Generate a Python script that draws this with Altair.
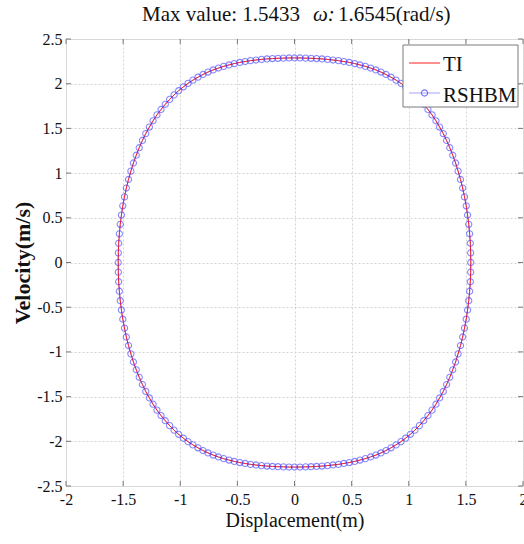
import altair as alt
import pandas as pd

# Phase portrait (displacement in m, velocity in m/s)
displacement = [
    1.543, 1.542, 1.539, 1.533, 1.525, 1.515, 1.503, 1.488, 1.472, 1.453, 1.432, 1.410, 1.385, 1.359, 1.331, 1.302,
    1.270, 1.238, 1.204, 1.168, 1.131, 1.093, 1.054, 1.014, 0.973, 0.932, 0.889, 0.845, 0.801, 0.757, 0.712, 0.666,
    0.620, 0.573, 0.527, 0.479, 0.432, 0.385, 0.337, 0.289, 0.241, 0.193, 0.145, 0.097, 0.048, 0.000,
    -0.048, -0.097, -0.145, -0.193, -0.241, -0.289, -0.337, -0.385, -0.432, -0.479, -0.527, -0.573, -0.620, -0.666,
    -0.712, -0.757, -0.801, -0.845, -0.889, -0.932, -0.973, -1.014, -1.054, -1.093, -1.131, -1.168, -1.204, -1.238,
    -1.270, -1.302, -1.331, -1.359, -1.385, -1.410, -1.432, -1.453, -1.472, -1.488, -1.503, -1.515, -1.525, -1.533,
    -1.539, -1.542, -1.543,
    -1.542, -1.539, -1.533, -1.525, -1.515, -1.503, -1.488, -1.472, -1.453, -1.432, -1.410, -1.385, -1.359, -1.331,
    -1.302, -1.270, -1.238, -1.204, -1.168, -1.131, -1.093, -1.054, -1.014, -0.973, -0.932, -0.889, -0.845, -0.801,
    -0.757, -0.712, -0.666, -0.620, -0.573, -0.527, -0.479, -0.432, -0.385, -0.337, -0.289, -0.241, -0.193, -0.145,
    -0.097, -0.048, 0.000,
    0.048, 0.097, 0.145, 0.193, 0.241, 0.289, 0.337, 0.385, 0.432, 0.479, 0.527, 0.573, 0.620, 0.666, 0.712, 0.757,
    0.801, 0.845, 0.889, 0.932, 0.973, 1.014, 1.054, 1.093, 1.131, 1.168, 1.204, 1.238, 1.270, 1.302, 1.331, 1.359,
    1.385, 1.410, 1.432, 1.453, 1.472, 1.488, 1.503, 1.515, 1.525, 1.533, 1.539, 1.542,
]
velocity = [
    0.000, -0.108, -0.215, -0.321, -0.427, -0.531, -0.634, -0.734, -0.833, -0.929, -1.022, -1.113, -1.200, -1.284,
    -1.365, -1.442, -1.515, -1.585, -1.651, -1.712, -1.770, -1.825, -1.875, -1.922, -1.965, -2.004, -2.040, -2.073,
    -2.103, -2.130, -2.154, -2.175, -2.194, -2.210, -2.225, -2.238, -2.248, -2.258, -2.265, -2.272, -2.277, -2.281,
    -2.284, -2.286, -2.288, -2.288,
    -2.288, -2.286, -2.284, -2.281, -2.277, -2.272, -2.265, -2.258, -2.248, -2.238, -2.225, -2.210, -2.194, -2.175,
    -2.154, -2.130, -2.103, -2.073, -2.040, -2.004, -1.965, -1.922, -1.875, -1.825, -1.770, -1.712, -1.651, -1.585,
    -1.515, -1.442, -1.365, -1.284, -1.200, -1.113, -1.022, -0.929, -0.833, -0.734, -0.634, -0.531, -0.427, -0.321,
    -0.215, -0.108, 0.000,
    0.108, 0.215, 0.321, 0.427, 0.531, 0.634, 0.734, 0.833, 0.929, 1.022, 1.113, 1.200, 1.284, 1.365, 1.442, 1.515,
    1.585, 1.651, 1.712, 1.770, 1.825, 1.875, 1.922, 1.965, 2.004, 2.040, 2.073, 2.103, 2.130, 2.154, 2.175, 2.194,
    2.210, 2.225, 2.238, 2.248, 2.258, 2.265, 2.272, 2.277, 2.281, 2.284, 2.286, 2.288, 2.288,
    2.288, 2.286, 2.284, 2.281, 2.277, 2.272, 2.265, 2.258, 2.248, 2.238, 2.225, 2.210, 2.194, 2.175, 2.154, 2.130,
    2.103, 2.073, 2.040, 2.004, 1.965, 1.922, 1.875, 1.825, 1.770, 1.712, 1.651, 1.585, 1.515, 1.442, 1.365, 1.284,
    1.200, 1.113, 1.022, 0.929, 0.833, 0.734, 0.634, 0.531, 0.427, 0.321, 0.215, 0.108,
]
x_ticks = [-2, -1.5, -1, -0.5, 0, 0.5, 1, 1.5, 2]
y_ticks = [-2.5, -2, -1.5, -1, -0.5, 0, 0.5, 1, 1.5, 2, 2.5]
series_names = ["TI", "RSHBM"]
title_parts = ["Max value: 1.5433", "\u03c9:", "1.6545(rad/s)"]
x_title = "Displacement(m)"
y_title = "Velocity(m/s)"

W, H = 457, 447
FONT = "Liberation Serif"
GRAY = "#7a7a7a"
BLUE = "#3a3aff"
RED = "#ff2020"

df = pd.DataFrame({"Displacement": displacement, "Velocity": velocity, "step": list(range(len(displacement)))})
line_df = pd.concat([df, df.iloc[[0]].assign(step=len(df))], ignore_index=True)

xs = alt.Scale(domain=[-2, 2], nice=False, zero=False)
ys = alt.Scale(domain=[-2.5, 2.5], nice=False, zero=False)

x_axis = alt.Axis(values=x_ticks, title=x_title, labelExpr="datum.value + ''", ticks=False, domain=False,
                  grid=True, gridDash=[2, 2], gridColor="#d4d4d4", labelFontSize=16, titleFontSize=20,
                  labelPadding=5, titlePadding=3, labelFlush=False, labelOverlap=False,
                  labelFont=FONT, titleFont=FONT, titleFontWeight="normal", labelColor="#111", titleColor="#111")
y_axis = alt.Axis(values=y_ticks, title=y_title, labelExpr="datum.value + ''", ticks=False, domain=False,
                  grid=True, gridDash=[2, 2], gridColor="#d4d4d4", labelFontSize=16, titleFontSize=22,
                  labelPadding=4, titlePadding=2, labelFlush=False, labelOverlap=False,
                  labelFont=FONT, titleFont=FONT, titleFontWeight="bold", labelColor="#111", titleColor="#111")

blue_line = alt.Chart(line_df).mark_line(color=BLUE, strokeWidth=0.8, opacity=0.6).encode(
    x=alt.X("Displacement:Q", scale=xs, axis=x_axis),
    y=alt.Y("Velocity:Q", scale=ys, axis=y_axis),
    order="step:Q",
)
red_line = alt.Chart(line_df).mark_line(color=RED, strokeWidth=1).encode(
    x=alt.X("Displacement:Q", scale=xs),
    y=alt.Y("Velocity:Q", scale=ys),
    order="step:Q",
)
circles = alt.Chart(df).mark_point(shape="circle", filled=False, color=BLUE, size=38,
                                   strokeWidth=1.1, opacity=0.6).encode(
    x=alt.X("Displacement:Q", scale=xs),
    y=alt.Y("Velocity:Q", scale=ys),
)

xt = pd.DataFrame({"t": x_ticks})
yt = pd.DataFrame({"t": y_ticks})
tick_style = dict(color=GRAY, strokeWidth=1)
ticks_bottom = alt.Chart(xt).mark_rule(**tick_style).encode(
    x=alt.X("t:Q", scale=xs), y=alt.value(H), y2=alt.value(H - 5))
ticks_top = alt.Chart(xt).mark_rule(**tick_style).encode(
    x=alt.X("t:Q", scale=xs), y=alt.value(0), y2=alt.value(5))
ticks_left = alt.Chart(yt).mark_rule(**tick_style).encode(
    y=alt.Y("t:Q", scale=ys), x=alt.value(0), x2=alt.value(5))
ticks_right = alt.Chart(yt).mark_rule(**tick_style).encode(
    y=alt.Y("t:Q", scale=ys), x=alt.value(W), x2=alt.value(W - 5))

one = pd.DataFrame({"k": [0]})
legend_box = alt.Chart(one).mark_rect(fill="white", stroke=GRAY, strokeWidth=1).encode(
    x=alt.value(337), x2=alt.value(452), y=alt.value(6), y2=alt.value(68))
leg_red = alt.Chart(one).mark_rule(color=RED, strokeWidth=1).encode(
    x=alt.value(343), x2=alt.value(374), y=alt.value(24))
leg_blue = alt.Chart(one).mark_rule(color=BLUE, strokeWidth=0.8, opacity=0.6).encode(
    x=alt.value(343), x2=alt.value(374), y=alt.value(54))
leg_circle = alt.Chart(one).mark_point(shape="circle", filled=False, color=BLUE, size=38,
                                       strokeWidth=1.1, opacity=0.7).encode(
    x=alt.value(358.5), y=alt.value(54))
names_df = pd.DataFrame({"name": series_names, "row": [0, 1]})
leg_text_ti = alt.Chart(names_df.iloc[[0]]).mark_text(font=FONT, fontSize=21, align="left",
                                                      baseline="alphabetic", color="#111").encode(
    text="name:N", x=alt.value(377), y=alt.value(32))
leg_text_rs = alt.Chart(names_df.iloc[[1]]).mark_text(font=FONT, fontSize=21, align="left",
                                                      baseline="alphabetic", color="#111").encode(
    text="name:N", x=alt.value(377), y=alt.value(62.5))

tp = pd.DataFrame({"s": title_parts})
title_a = alt.Chart(tp.iloc[[0]]).mark_text(font=FONT, fontSize=21, align="left", baseline="alphabetic",
                                            color="#111").encode(text="s:N", x=alt.value(76), y=alt.value(-18))
title_b = alt.Chart(tp.iloc[[1]]).mark_text(font=FONT, fontSize=21, fontStyle="italic", align="left",
                                            baseline="alphabetic", color="#111").encode(
    text="s:N", x=alt.value(247), y=alt.value(-18))
title_c = alt.Chart(tp.iloc[[2]]).mark_text(font=FONT, fontSize=21, align="left", baseline="alphabetic",
                                            color="#111").encode(text="s:N", x=alt.value(272), y=alt.value(-18))

chart = alt.layer(
    blue_line, red_line, circles,
    ticks_bottom, ticks_top, ticks_left, ticks_right,
    legend_box, leg_red, leg_blue, leg_circle, leg_text_ti, leg_text_rs,
    title_a, title_b, title_c,
).properties(
    width=W, height=H,
    autosize=alt.AutoSizeParams(type="none"),
    padding={"left": 66, "top": 39, "right": 1, "bottom": 58},
).configure_view(
    stroke=GRAY, strokeWidth=1
).configure_axis(
    labelFont=FONT, titleFont=FONT
).configure_text(
    font=FONT
).configure(background="white")

chart.save("out.html", embed_options={"renderer": "svg", "actions": False})
